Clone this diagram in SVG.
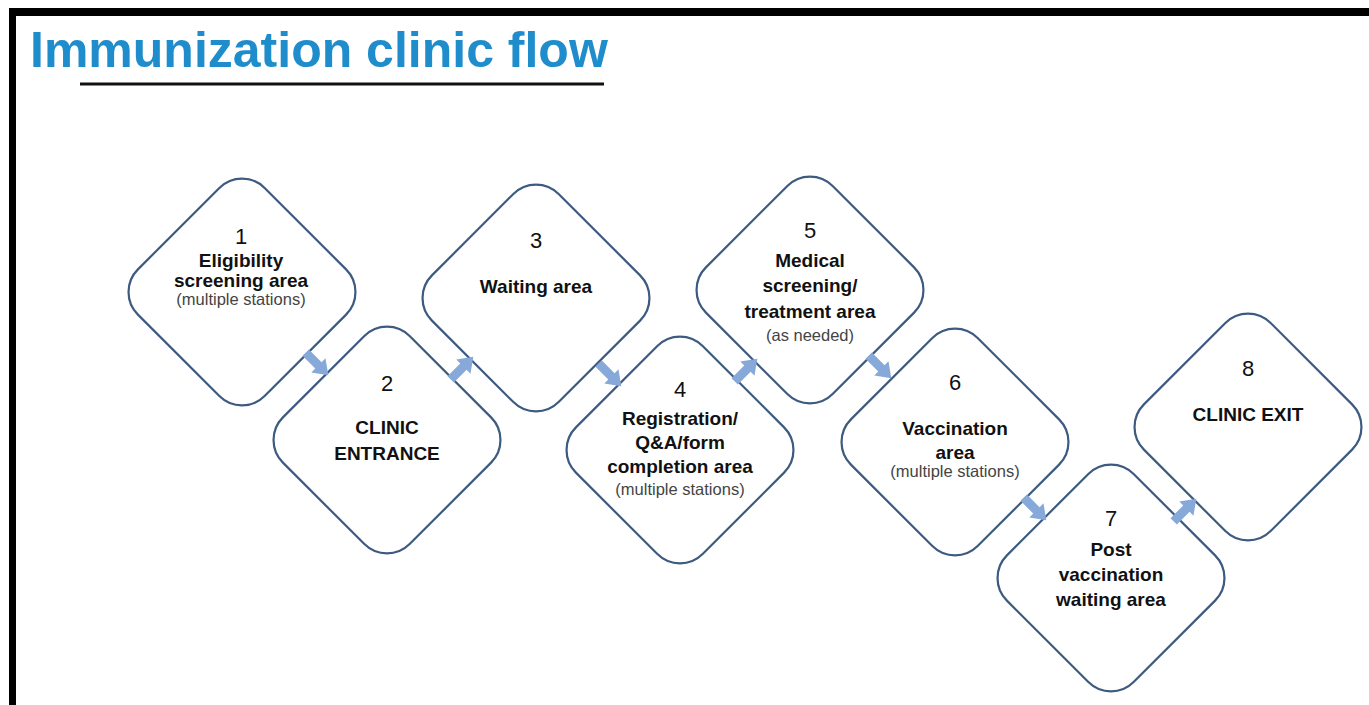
<svg xmlns="http://www.w3.org/2000/svg" xmlns:xlink="http://www.w3.org/1999/xlink" width="1369" height="705" viewBox="0 0 1369 705">
  <style>
    .frame { fill: #000; }
    .title { font-family: "Liberation Sans", Arial, sans-serif; font-weight: bold; font-size: 50px; fill: #1f8dcb; }
    .dia { fill: #fff; stroke: #3d5a80; stroke-width: 2.2; }
    .num { font-family: "Liberation Sans", Arial, sans-serif; font-size: 22px; fill: #111; text-anchor: middle; }
    .lbl { font-family: "Liberation Sans", Arial, sans-serif; font-weight: bold; font-size: 19px; fill: #111; text-anchor: middle; }
    .sub { font-family: "Liberation Sans", Arial, sans-serif; font-size: 16.5px; fill: #444; text-anchor: middle; }
    .arr { fill: #87a9d9; }
  </style>
  <defs>
    <rect id="diamond" x="-89.6" y="-89.6" width="179.2" height="179.2" rx="32" ry="32" transform="rotate(45)"/>
    <path id="arrow" d="M-16,-4.5 L2,-4.5 L2,-10 L16,0 L2,10 L2,4.5 L-16,4.5 Z"/>
  </defs>
  <rect width="1369" height="705" fill="#fff"/>
  <rect class="frame" x="9" y="8" width="1360" height="8"/>
  <rect class="frame" x="9" y="8" width="7" height="697"/>

  <g id="title">
    <text class="title" x="30" y="67">Immunization clinic flow</text>
    <rect x="80" y="82.5" width="524" height="3" fill="#111"/>
  </g>

  <g id="node1" transform="translate(242,292)">
    <use xlink:href="#diamond" class="dia"/>
  </g>
  <g id="node2" transform="translate(387,440)">
    <use xlink:href="#diamond" class="dia"/>
  </g>
  <g id="node3" transform="translate(536,298)">
    <use xlink:href="#diamond" class="dia"/>
  </g>
  <g id="node4" transform="translate(680,450)">
    <use xlink:href="#diamond" class="dia"/>
  </g>
  <g id="node5" transform="translate(810,290)">
    <use xlink:href="#diamond" class="dia"/>
  </g>
  <g id="node6" transform="translate(955,442)">
    <use xlink:href="#diamond" class="dia"/>
  </g>
  <g id="node7" transform="translate(1111,578)">
    <use xlink:href="#diamond" class="dia"/>
  </g>
  <g id="node8" transform="translate(1248,427)">
    <use xlink:href="#diamond" class="dia"/>
  </g>

  <g id="connectors" class="arr">
    <use xlink:href="#arrow" transform="translate(317,364) rotate(45)"/>
    <use xlink:href="#arrow" transform="translate(462,368) rotate(-45)"/>
    <use xlink:href="#arrow" transform="translate(610,375) rotate(45)"/>
    <use xlink:href="#arrow" transform="translate(746,370) rotate(-45)"/>
    <use xlink:href="#arrow" transform="translate(880,367) rotate(45)"/>
    <use xlink:href="#arrow" transform="translate(1035,509) rotate(45)"/>
    <use xlink:href="#arrow" transform="translate(1185,510) rotate(-45)"/>
  </g>

  <g id="labels">
    <text class="num" x="241" y="244">1</text>
    <text class="lbl" x="241" y="267">Eligibility</text>
    <text class="lbl" x="241" y="287">screening area</text>
    <text class="sub" x="241" y="305">(multiple stations)</text>

    <text class="num" x="387" y="391">2</text>
    <text class="lbl" x="387" y="434">CLINIC</text>
    <text class="lbl" x="387" y="460">ENTRANCE</text>

    <text class="num" x="536" y="248">3</text>
    <text class="lbl" x="536" y="293">Waiting area</text>

    <text class="num" x="680" y="397">4</text>
    <text class="lbl" x="680" y="425">Registration/</text>
    <text class="lbl" x="680" y="449">Q&amp;A/form</text>
    <text class="lbl" x="680" y="473">completion area</text>
    <text class="sub" x="680" y="495">(multiple stations)</text>

    <text class="num" x="810" y="238">5</text>
    <text class="lbl" x="810" y="267">Medical</text>
    <text class="lbl" x="810" y="292">screening/</text>
    <text class="lbl" x="810" y="318">treatment area</text>
    <text class="sub" x="810" y="341">(as needed)</text>

    <text class="num" x="955" y="390">6</text>
    <text class="lbl" x="955" y="435">Vaccination</text>
    <text class="lbl" x="955" y="459">area</text>
    <text class="sub" x="955" y="477">(multiple stations)</text>

    <text class="num" x="1111" y="526">7</text>
    <text class="lbl" x="1111" y="556">Post</text>
    <text class="lbl" x="1111" y="581">vaccination</text>
    <text class="lbl" x="1111" y="606">waiting area</text>

    <text class="num" x="1248" y="376">8</text>
    <text class="lbl" x="1248" y="421">CLINIC EXIT</text>
  </g>
</svg>
